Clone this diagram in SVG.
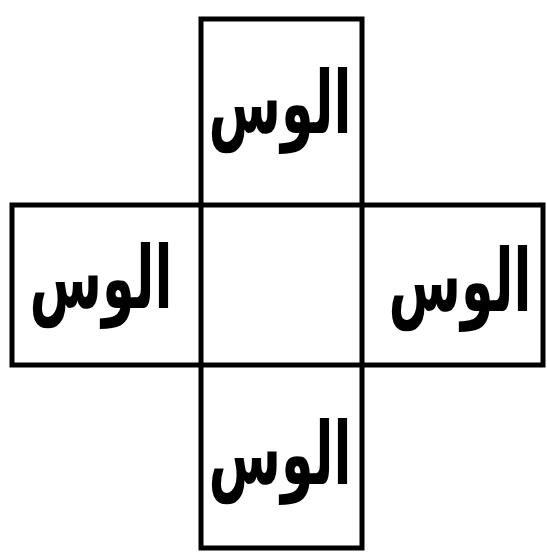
<svg xmlns="http://www.w3.org/2000/svg" width="547" height="553" viewBox="0 0 547 553">
<style>
.box{fill:none;stroke:#000;stroke-width:5}
.lbl{font-family:"DejaVu Sans",sans-serif;font-weight:bold;font-size:64px;text-anchor:middle;fill:#000}
</style>
<rect width="547" height="553" fill="#fff"/>
<g id="frame">
<rect class="box" x="201" y="19" width="161" height="529"/>
<rect class="box" x="12" y="205" width="531" height="160"/>
</g>
<g id="top"><text class="lbl" transform="translate(280,133) scale(0.82,1.35)" direction="rtl">الوس</text></g>
<g id="left"><text class="lbl" transform="translate(101,308) scale(0.82,1.35)" direction="rtl">الوس</text></g>
<g id="right"><text class="lbl" transform="translate(460,311) scale(0.82,1.35)" direction="rtl">الوس</text></g>
<g id="bottom"><text class="lbl" transform="translate(280,484) scale(0.82,1.35)" direction="rtl">الوس</text></g>
<g id="connectors"></g>
</svg>
